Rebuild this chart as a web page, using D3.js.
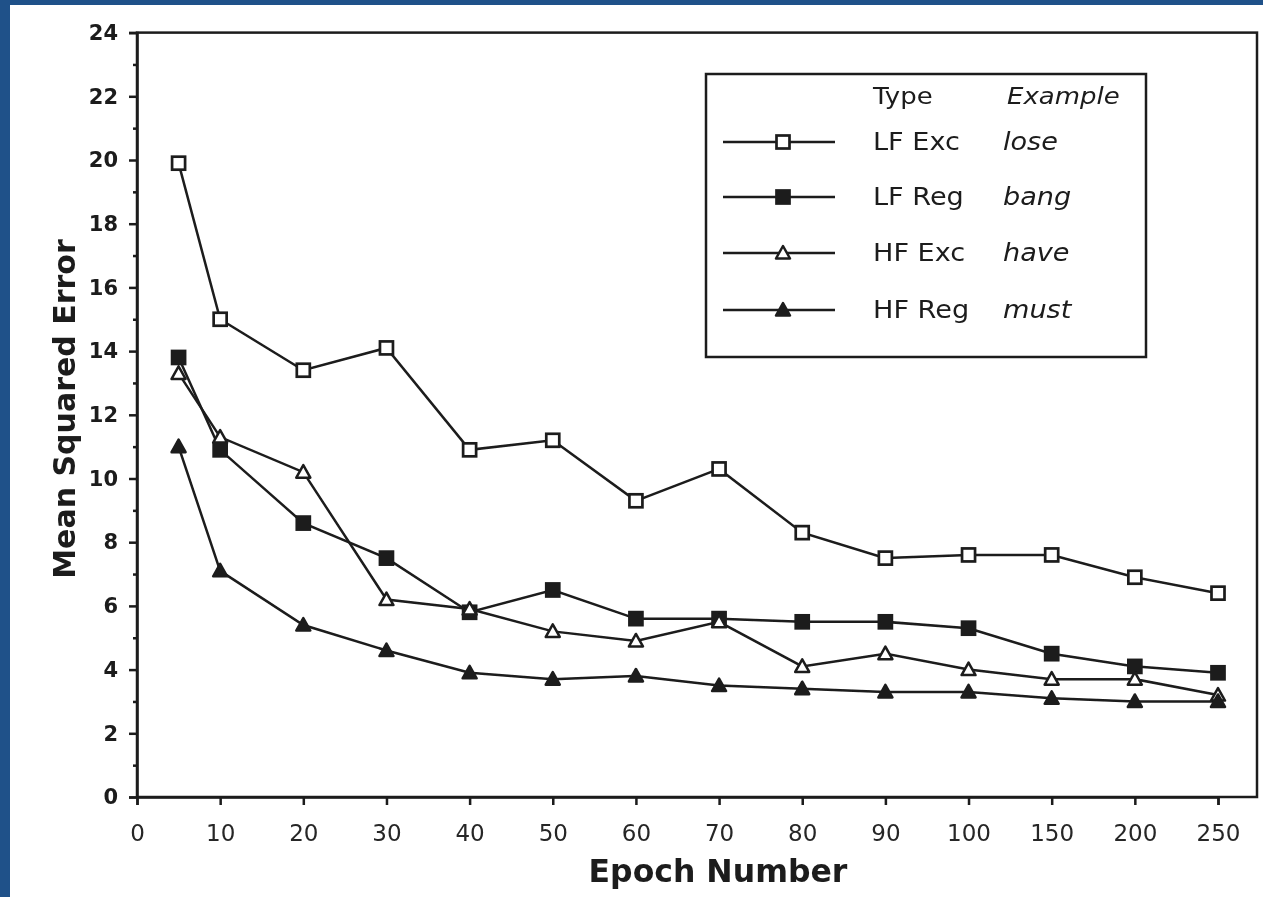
<!DOCTYPE html>
<html>
<head>
<meta charset="utf-8">
<script src="https://cdn.jsdelivr.net/npm/d3@7"></script>
<style>
    body { margin: 0; background: #1f5189; }
    #chart { width: 1263px; height: 897px; }
</style>
</head>
<body>
<div id="chart"></div>
<script>
// data
const epochs = [5, 10, 20, 30, 40, 50, 60, 70, 80, 90, 100, 150, 200, 250];
const lfExc = [19.9, 15.0, 13.4, 14.1, 10.9, 11.2, 9.3, 10.3, 8.3, 7.5, 7.6, 7.6, 6.9, 6.4];
const lfReg = [13.8, 10.9, 8.6, 7.5, 5.8, 6.5, 5.6, 5.6, 5.5, 5.5, 5.3, 4.5, 4.1, 3.9];
const hfExc = [13.3, 11.3, 10.2, 6.2, 5.9, 5.2, 4.9, 5.5, 4.1, 4.5, 4.0, 3.7, 3.7, 3.2];
const hfReg = [11.0, 7.1, 5.4, 4.6, 3.9, 3.7, 3.8, 3.5, 3.4, 3.3, 3.3, 3.1, 3.0, 3.0];
const xTickLabels = [0, 10, 20, 30, 40, 50, 60, 70, 80, 90, 100, 150, 200, 250];
const yTickLabels = [0, 2, 4, 6, 8, 10, 12, 14, 16, 18, 20, 22, 24];
const yMinorTicks = [1, 3, 5, 7, 9, 11, 13, 15, 17, 19, 21, 23];
const seriesTypes = ["LF Exc", "LF Reg", "HF Exc", "HF Reg"];
const seriesExamples = ["lose", "bang", "have", "must"];

let W = 1263, H = 897
let plot = { left: 137, right: 1257, top: 32.6, bottom: 797 }
let ink = "#1b1b1b"

let svg = d3.select("#chart")
    .append("svg")
    .attr("width", W)
    .attr("height", H)

// blue slide background + white paper
svg.append("rect")
    .attr("x", 0).attr("y", 0)
    .attr("width", W).attr("height", H)
    .attr("fill", "#1f5189")
svg.append("rect")
    .attr("x", 10).attr("y", 5)
    .attr("width", W - 10).attr("height", H - 5)
    .attr("fill", "#ffffff")

let defs = svg.append("defs")
defs.append("filter").attr("id", "soft")
    .append("feGaussianBlur").attr("stdDeviation", 0.55)

let g = svg.append("g").attr("filter", "url(#soft)")

// x: the 14 labels are equally spaced, 5 sits half way between 0 and 10
let xIndex = d3.scaleLinear().domain([0, 13]).range([plot.left, 1218])
let epochToIndex = d3.scaleLinear().domain([0, 100, 250]).range([0, 10, 13])
let x = function (e) { return xIndex(epochToIndex(e)) }
let y = d3.scaleLinear().domain([0, 24]).range([plot.bottom, plot.top])

// frame
g.append("rect")
    .attr("x", plot.left).attr("y", plot.top)
    .attr("width", plot.right - plot.left)
    .attr("height", plot.bottom - plot.top)
    .attr("fill", "none")
    .attr("stroke", ink)
    .attr("stroke-width", 2.5)

// y axis, major + minor ticks
let yAxis = g.append("g")
    .attr("transform", "translate(" + plot.left + ",0)")
    .call(d3.axisLeft(y).tickValues(yTickLabels).tickSize(8).tickPadding(11))
yAxis.select(".domain").attr("stroke", ink).attr("stroke-width", 2.5)
yAxis.selectAll(".tick line").attr("stroke", ink).attr("stroke-width", 2.5)
yAxis.selectAll("text")
    .attr("fill", ink)
    .style("font-family", "DejaVu Sans")
    .style("font-size", "21px")
    .style("font-weight", "bold")

let yMinor = g.append("g")
    .attr("transform", "translate(" + plot.left + ",0)")
    .call(d3.axisLeft(y).tickValues(yMinorTicks).tickSize(4).tickFormat(""))
yMinor.select(".domain").remove()
yMinor.selectAll(".tick line").attr("stroke", ink).attr("stroke-width", 2.5)

// x axis
let xAxis = g.append("g")
    .attr("transform", "translate(0," + plot.bottom + ")")
    .call(d3.axisBottom(xIndex)
        .tickValues(d3.range(xTickLabels.length))
        .tickFormat(function (d) { return xTickLabels[d] })
        .tickSize(8).tickPadding(20))
xAxis.select(".domain").attr("stroke", ink).attr("stroke-width", 2.5)
xAxis.selectAll(".tick line").attr("stroke", ink).attr("stroke-width", 2.5)
xAxis.selectAll("text")
    .attr("fill", "#262626")
    .style("font-family", "DejaVu Sans")
    .style("font-size", "23px")

// axis titles
g.append("text")
    .attr("x", 718)
    .attr("y", 882)
    .attr("text-anchor", "middle")
    .attr("fill", ink)
    .style("font-family", "DejaVu Sans")
    .style("font-size", "31.5px")
    .style("font-weight", "bold")
    .text("Epoch Number")

g.append("text")
    .attr("transform", "translate(75," + 409 + ") rotate(-90)")
    .attr("text-anchor", "middle")
    .attr("fill", ink)
    .style("font-family", "DejaVu Sans")
    .style("font-size", "30px")
    .style("font-weight", "bold")
    .text("Mean Squared Error")

// markers
function drawMarker(sel, kind) {
    if (kind == 0 || kind == 1) {
        sel.append("rect")
            .attr("x", -6.5).attr("y", -6.5)
            .attr("width", 13).attr("height", 13)
            .attr("fill", kind == 0 ? "#ffffff" : ink)
            .attr("stroke", ink)
            .attr("stroke-width", 2.7)
    } else {
        sel.append("path")
            .attr("d", "M0,-7L7,5.5L-7,5.5Z")
            .attr("fill", kind == 2 ? "#ffffff" : ink)
            .attr("stroke", ink)
            .attr("stroke-width", 2.5)
            .attr("stroke-linejoin", "round")
    }
}

let allSeries = [lfExc, lfReg, hfExc, hfReg]
let line = d3.line()
    .x(function (d, i) { return x(epochs[i]) })
    .y(function (d) { return y(d) })

allSeries.forEach(function (vals, k) {
    g.append("path")
        .datum(vals)
        .attr("d", line)
        .attr("fill", "none")
        .attr("stroke", ink)
        .attr("stroke-width", 2.5)
})
allSeries.forEach(function (vals, k) {
    g.selectAll(".pt" + k)
        .data(vals)
        .enter()
        .append("g")
        .attr("class", "pt" + k)
        .attr("transform", function (d, i) {
            return "translate(" + x(epochs[i]) + "," + y(d) + ")"
        })
        .each(function () { drawMarker(d3.select(this), k) })
})

// legend (the scanned type is a bit wider than DejaVu, so stretch it)
function legendText(parent, tx, ty, str, italic, size) {
    parent.append("text")
        .attr("transform", "translate(" + tx + "," + ty + ") scale(1.13,1)")
        .attr("fill", ink)
        .style("font-family", "DejaVu Sans")
        .style("font-size", size + "px")
        .style("font-style", italic ? "italic" : "normal")
        .text(str)
}

let legend = g.append("g")
legend.append("rect")
    .attr("x", 706).attr("y", 74)
    .attr("width", 440).attr("height", 283)
    .attr("fill", "#ffffff")
    .attr("stroke", ink)
    .attr("stroke-width", 2.5)
legendText(legend, 873, 104, "Type", false, 23)
legendText(legend, 1007, 104, "Example", true, 23)

let rowY = [142, 197, 253, 310]
seriesTypes.forEach(function (t, k) {
    let row = legend.append("g").attr("transform", "translate(0," + rowY[k] + ")")
    row.append("line")
        .attr("x1", 723).attr("x2", 835)
        .attr("y1", 0).attr("y2", 0)
        .attr("stroke", ink)
        .attr("stroke-width", 2.5)
    drawMarker(row.append("g").attr("transform", "translate(783,0)"), k)
    legendText(row, 873, 8, t, false, 24)
    legendText(row, 1003, 8, seriesExamples[k], true, 24)
})
</script>
</body>
</html>
